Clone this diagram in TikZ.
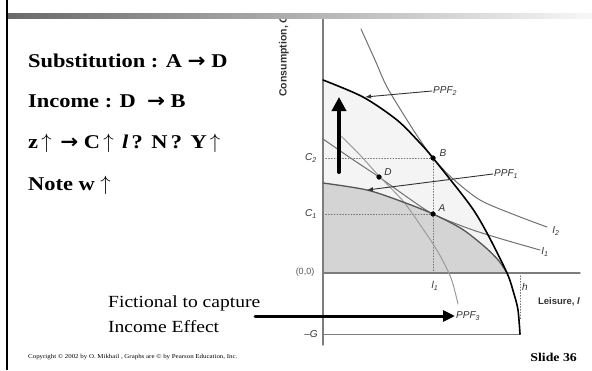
\documentclass[tikz,border=0pt]{standalone}
\usepackage{fontspec}
\setmainfont{Liberation Serif}[FakeStretch=1.15]
\newfontfamily\graphfont{Liberation Sans}
\newfontfamily\arrowfont{DejaVu Sans}[FakeStretch=1.1]
\usetikzlibrary{arrows.meta}
\definecolor{barDark}{RGB}{105,105,105}
\definecolor{fillLight}{RGB}{244,244,244}
\definecolor{fillDark}{RGB}{212,212,212}
\definecolor{curveDark}{RGB}{85,85,85}
\definecolor{curveMid}{RGB}{112,112,112}
\definecolor{curveLight}{RGB}{155,155,155}
\definecolor{axisGray}{RGB}{125,125,125}
\definecolor{labelGray}{RGB}{50,50,50}
\newcommand\bigtext{\fontsize{19.5}{22}\selectfont\bfseries}
\newcommand\rarr{{\arrowfont\bfseries →}}
\newcommand\uarr{$\uparrow$}
\newcommand\gap{\hspace{8.5pt}}
\tikzset{ppfmain/.style={draw=black,line width=1.6pt},
 ppfold/.style={draw=curveDark,line width=1.3pt},
 indiff/.style={draw=curveMid,line width=1pt},
 ppffict/.style={draw=curveLight,line width=1pt},
 axisline/.style={draw=axisGray,line width=1.4pt},
 guide/.style={draw=curveMid,line width=.8pt,dotted},
 dot/.style={circle,fill=black,inner sep=0pt,minimum size=5pt},
 glabel/.style={inner sep=1pt,text=labelGray,font=\graphfont\itshape\fontsize{10}{12}\selectfont},
 axislabel/.style={inner sep=0pt,text=labelGray,font=\graphfont\bfseries\fontsize{9.5}{11}\selectfont},
 pointer/.style={draw=labelGray,line width=.9pt,-{Latex[length=6pt,width=4.5pt]}},
 bigarrow/.style={line width=4pt,-{Triangle[length=14pt,width=14pt]}},
 slidetext/.style={anchor=base west,inner sep=0pt,font=\bigtext},
 every picture/.style={line join=round,line cap=round}}
\begin{document}
\begin{tikzpicture}[x=1pt,y=-1pt]
\useasboundingbox (0,0) rectangle (592,370);
% slide frame
\fill[black] (5.5,0) rectangle (8,370);
% shaded sets under the frontiers
\begin{scope}
\clip (323,16) rectangle (592,273);
\fill[fillLight] (323,334) -- plot[smooth] coordinates {(323,80) (363,97) (397,120) (420,143) (433,158) (470,205) (487,233) (507,273) (514,294) (518,310) (520,334)} -- cycle;
\end{scope}
\fill[fillDark] (323,273) -- plot[smooth] coordinates {(323,183) (367,190) (403,202) (433,214) (462,229) (485,247) (499,261) (507,273)} -- cycle;
% axes
\coordinate (O) at (323,273);
\coordinate (yTop) at (323,16);
\coordinate (yBot) at (323,345);
\coordinate (xEnd) at (580,273);
\coordinate (negG) at (323,334);
\coordinate (hG) at (520,334);
\coordinate (C2ax) at (323,158);
\coordinate (C1ax) at (323,214);
\coordinate (l1ax) at (433,273);
\coordinate (hax) at (520,273);
\coordinate (hlow) at (520,320);
% points
\node[dot] (B) at (433,158) {};
\node[dot] (D) at (379,177) {};
\node[dot] (A) at (433,214) {};
\draw[guide] (C2ax) -- (B);
\draw[guide] (B) -- (l1ax);
\draw[guide] (C1ax) -- (A);
\draw[guide] (hax) -- (hlow);
\draw[axisline] (yTop) -- (yBot);
\draw[axisline] (O) -- (xEnd);
\draw[axisline,line width=1pt] (negG) -- (hG);
% curves
\draw[indiff] plot[smooth] coordinates {(361,29) (375,60) (387,87) (407,120) (420,140) (433,158) (452,178) (480,200) (515,215) (547,227)};
\draw[indiff] plot[smooth] coordinates {(323,139) (352,159) (379,177) (407,197) (433,214) (470,229) (505,240) (540,250)};
\draw[ppffict] plot[smooth] coordinates {(341,136) (360,155) (379,176) (403,201) (421,226) (438,252) (451,278) (458,304)};
\draw[ppfold] plot[smooth] coordinates {(323,183) (367,190) (403,202) (433,214) (462,229) (485,247) (499,261) (507,273)};
\draw[ppfmain] plot[smooth] coordinates {(323,80) (363,97) (397,120) (420,143) (433,158) (470,205) (487,233) (507,273) (514,294) (518,310) (520,334)};
\node[dot] at (B) {};
\node[dot] at (D) {};
\node[dot] at (A) {};
% graph labels
\node[glabel] (Blab) at (443,153) {B};
\node[glabel] (Dlab) at (388,172) {D};
\node[glabel] (Alab) at (442,208) {A};
\node[glabel] (C2lab) at (311,158) {C\textsubscript{2}};
\node[glabel] (C1lab) at (311,214) {C\textsubscript{1}};
\node[glabel] (l1lab) at (435,286) {l\textsubscript{1}};
\node[glabel] (hlab) at (525,287) {h};
\node[glabel] (I2lab) at (556,231) {I\textsubscript{2}};
\node[glabel] (I1lab) at (545,252) {I\textsubscript{1}};
\node[glabel,font=\graphfont\fontsize{9}{11}\selectfont,text=curveDark] (origin) at (305,272) {(0,0)};
\node[glabel] (Glab) at (311,334) {\upshape–\itshape G};
\node[axislabel] (xlab) at (559,302) {Leisure, \textit{l}};
\node[axislabel,font=\graphfont\bfseries\fontsize{10.5}{12}\selectfont,rotate=90] (ylab) at (284,56) {Consumption, \textit{C}};
\node[glabel,anchor=west] (ppf2lab) at (432,91) {PPF\textsubscript{2}};
\node[glabel,anchor=west] (ppf1lab) at (493,174) {PPF\textsubscript{1}};
\node[glabel,anchor=west] (ppf3lab) at (455,316) {PPF\textsubscript{3}};
\coordinate (onPPF2) at (365,97);
\coordinate (onPPF1) at (367,190);
\draw[pointer] (ppf2lab.west) -- (onPPF2);
\draw[pointer] (ppf1lab.west) -- (onPPF1);
% income shift arrows
\coordinate (liftFoot) at (339,172);
\coordinate (liftTip) at (339,97);
\draw[bigarrow] (liftFoot) -- (liftTip);
\coordinate (fictStart) at (255,316);
\draw[bigarrow,line width=3pt,-{Triangle[length=12pt,width=11pt]}] (fictStart) -- (ppf3lab.west);
% slide text
\node[slidetext] (subst) at (28,67) {Substitution : A \rarr\ D};
\node[slidetext] (income) at (28,107) {Income : D\ \ \rarr\ B};
\node[slidetext] (zrise) at (28,148) {z\,\uarr\gap\rarr\ C\,\uarr\gap\textit{l}\,?\gap N\,?\gap Y\,\uarr};
\node[slidetext] (wnote) at (28,190) {Note w \uarr};
\node[anchor=base west,inner sep=0pt,font=\fontsize{17}{20}\selectfont] (fictA) at (108,307) {Fictional to capture};
\node[anchor=base west,inner sep=0pt,font=\fontsize{17}{20}\selectfont] (fictB) at (108,332) {Income Effect};
\node[anchor=base west,inner sep=0pt,font=\fontsize{6}{7}\selectfont] (copyr) at (28,358) {Copyright © 2002 by O. Mikhail , Graphs are © by Pearson Education, Inc.};
\node[anchor=base east,inner sep=0pt,font=\fontsize{12}{14}\selectfont\bfseries] (slideno) at (577,361) {Slide 36};
% title bar
\shade[left color=barDark,right color=white!97!black] (8,13) rectangle (592,18);
\end{tikzpicture}
\end{document}
